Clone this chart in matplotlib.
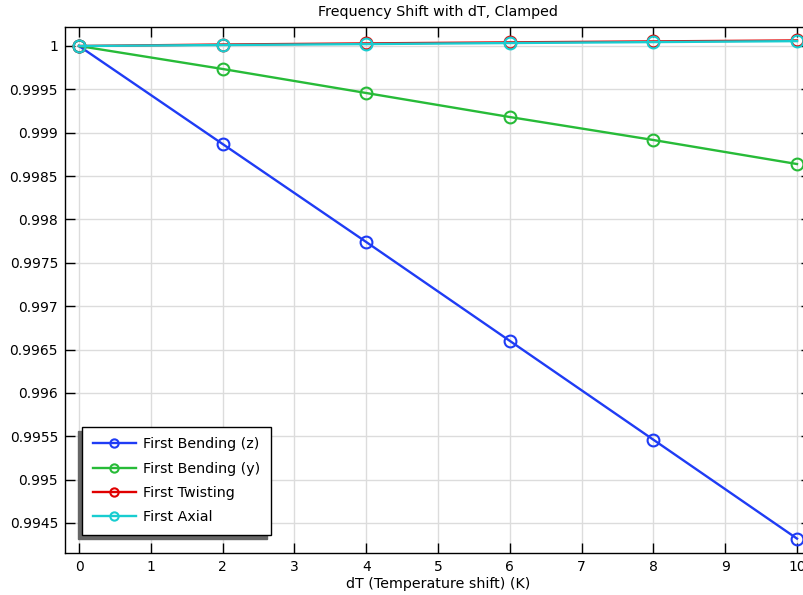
import matplotlib
matplotlib.use('Agg')
import matplotlib.pyplot as plt
from matplotlib.ticker import FuncFormatter, MultipleLocator

dT = [0, 2, 4, 6, 8, 10]
bend_z = [1.0, 0.99887, 0.99774, 0.99660, 0.99546, 0.99432]
bend_y = [1.0, 0.999735, 0.999458, 0.999181, 0.998916, 0.998639]
twisting = [1.0, 1.000017, 1.00003, 1.000042, 1.000053, 1.000064]
axial = [1.0, 1.000011, 1.000022, 1.000034, 1.000045, 1.000056]

labels = ['First Bending (z)', 'First Bending (y)', 'First Twisting', 'First Axial']
colors = ['#1f3cf5', '#27bb38', '#e00000', '#18cdd0']

fig = plt.figure(figsize=(8.04, 5.95), dpi=100)
ax = fig.add_axes([65 / 804, 42 / 595, 746 / 804, 526 / 595])

for ys, lab, c in zip([bend_z, bend_y, twisting, axial], labels, colors):
    ax.plot(dT, ys, color=c, lw=1.7, marker='o', ms=8.5, mfc='none',
            mec=c, mew=1.5, label=lab)

ax.set_xlim(-0.195, 10.195)
ax.set_ylim(0.994154, 1.000219)
ax.xaxis.set_major_locator(MultipleLocator(1))
ax.yaxis.set_major_locator(MultipleLocator(0.0005))
ax.yaxis.set_major_formatter(FuncFormatter(lambda v, p: ('%.4f' % v).rstrip('0').rstrip('.')))
ax.tick_params(direction='in', length=7, width=1, labelsize=10, top=True, right=True,
               colors='black', pad=5)
ax.grid(True, color='#dcdcdc', lw=1)
ax.set_axisbelow(True)
for s in ax.spines.values():
    s.set_linewidth(1)

ax.set_title('Frequency Shift with dT, Clamped', fontsize=10.3, pad=8)
ax.set_xlabel('dT (Temperature shift) (K)', fontsize=10.3, labelpad=2)

leg = ax.legend(loc='lower left', bbox_to_anchor=(17 / 746, 18 / 526), borderaxespad=0,
                fancybox=False, edgecolor='black', framealpha=1, fontsize=10.3,
                handlelength=3, handletextpad=0.5, labelspacing=0.72, borderpad=0.75,
                markerscale=0.7,
                shadow={'ox': -3, 'oy': -3, 'color': '#666666', 'alpha': 1})
leg.get_frame().set_linewidth(1)

fig.savefig('out.png', dpi=100)
